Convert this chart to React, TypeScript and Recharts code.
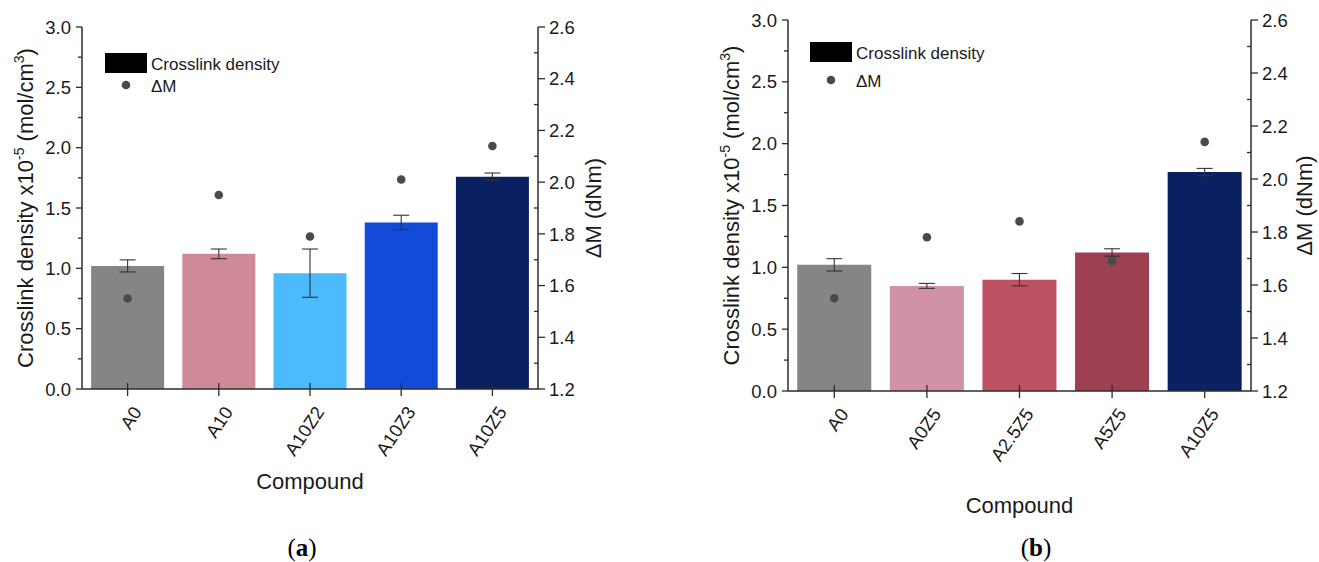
import React from 'react';
import { ComposedChart, Bar, Cell, ErrorBar, Line, XAxis, YAxis } from 'recharts';

// panel (a)
const categoriesA = ['A0', 'A10', 'A10Z2', 'A10Z3', 'A10Z5'];
const densityA = [1.02, 1.12, 0.96, 1.38, 1.76];
const densityErrA = [0.05, 0.04, 0.2, 0.06, 0.03];
const deltaMA = [1.55, 1.95, 1.79, 2.01, 2.14];
const colorsA = ['#858585', '#CF8A9A', '#4BBBFC', '#124BD8', '#0A2060'];

// panel (b)
const categoriesB = ['A0', 'A0Z5', 'A2.5Z5', 'A5Z5', 'A10Z5'];
const densityB = [1.02, 0.85, 0.9, 1.12, 1.77];
const densityErrB = [0.05, 0.02, 0.05, 0.03, 0.03];
const deltaMB = [1.55, 1.78, 1.84, 1.69, 2.14];
const colorsB = ['#858585', '#D092A4', '#BD5262', '#9C4052', '#0A2060'];

// axis ticks (majors labelled, minors drawn as short lines)
const densityTicks = [0, 0.25, 0.5, 0.75, 1, 1.25, 1.5, 1.75, 2, 2.25, 2.5, 2.75, 3];
const deltaMTicks = [1.2, 1.3, 1.4, 1.5, 1.6, 1.7, 1.8, 1.9, 2.0, 2.1, 2.2, 2.3, 2.4, 2.5, 2.6];

const FONT = '"Liberation Sans", Arial, sans-serif';
const INK = '#1a1a1a';
const AXIS = '#2b2b2b';
const TICK_FS = 18.5;

const makeRows = (cats: string[], dens: number[], err: number[], dm: number[]) =>
  cats.map((name, i) => ({ name, density: dens[i], err: err[i], dm: dm[i] }));

const LeftTick = (props: any) => {
  const { x, y, payload } = props;
  const v = payload.value as number;
  const major = Math.abs(v * 2 - Math.round(v * 2)) < 1e-6;
  return (
    <g>
      <line x1={x - (major ? 6 : 4)} x2={x} y1={y} y2={y} stroke={AXIS} strokeWidth={1.3} />
      {major && (
        <text x={x - 11} y={y} dy="0.36em" textAnchor="end" fontSize={TICK_FS} fill={INK} fontFamily={FONT}>
          {v.toFixed(1)}
        </text>
      )}
    </g>
  );
};

const RightTick = (props: any) => {
  const { x, y, payload } = props;
  const v = payload.value as number;
  const major = Math.round(v * 10) % 2 === 0;
  return (
    <g>
      {major ? (
        <line x1={x} x2={x + 7} y1={y} y2={y} stroke={AXIS} strokeWidth={1.3} />
      ) : (
        <line x1={x - 4} x2={x} y1={y} y2={y} stroke={AXIS} strokeWidth={1.3} />
      )}
      {major && (
        <text x={x + 11} y={y} dy="0.36em" textAnchor="start" fontSize={TICK_FS} fill={INK} fontFamily={FONT}>
          {v.toFixed(1)}
        </text>
      )}
    </g>
  );
};

const makeCategoryTick = (angle: number) => (props: any) => {
  const { x, y, payload } = props;
  const tx = x + 15;
  const ty = y + 23;
  return (
    <g>
      <line x1={x} x2={x} y1={y - 6} y2={y + 7} stroke={AXIS} strokeWidth={1.3} />
      <text
        x={tx}
        y={ty}
        textAnchor="end"
        transform={`rotate(${angle}, ${tx}, ${ty})`}
        fontSize={TICK_FS}
        fill={INK}
        fontFamily={FONT}
      >
        {payload.value}
      </text>
    </g>
  );
};

const TopTick = (props: any) => {
  const { x, y } = props;
  return <line x1={x} x2={x} y1={y} y2={y + 6} stroke={AXIS} strokeWidth={1.3} />;
};

type PanelProps = {
  rows: ReturnType<typeof makeRows>;
  colors: string[];
  left: number;
  width: number;
  margin: { top: number; right: number; bottom: number; left: number };
  leftAxisWidth: number;
  rightAxisWidth: number;
  xAxisHeight: number;
  tickAngle: number;
  densityLabelX: number;
  deltaLabelX: number;
  compoundY: number;
};

const Panel = ({
  rows,
  colors,
  left,
  width,
  margin,
  leftAxisWidth,
  rightAxisWidth,
  xAxisHeight,
  tickAngle,
  densityLabelX,
  deltaLabelX,
  compoundY,
}: PanelProps) => {
  const height = 562;
  const plotTop = margin.top;
  const plotBottom = height - margin.bottom - xAxisHeight;
  const plotLeft = margin.left + leftAxisWidth;
  const plotRight = width - margin.right - rightAxisWidth;
  const midY = (plotTop + plotBottom) / 2;
  const midX = (plotLeft + plotRight) / 2;

  const densityLabel = () => (
    <text
      transform={`translate(${densityLabelX},${midY}) rotate(-90)`}
      textAnchor="middle"
      fontSize={22}
      fill={INK}
      fontFamily={FONT}
    >
      Crosslink density x10
      <tspan dy={-9} fontSize={14}>-5</tspan>
      <tspan dy={9}> (mol/cm</tspan>
      <tspan dy={-9} fontSize={14}>3</tspan>
      <tspan dy={9}>)</tspan>
    </text>
  );

  const deltaLabel = () => (
    <text
      transform={`translate(${deltaLabelX},${midY}) rotate(-90)`}
      textAnchor="middle"
      fontSize={22}
      fill={INK}
      fontFamily={FONT}
    >
      ΔM (dNm)
    </text>
  );

  const compoundLabel = () => (
    <text x={midX} y={compoundY} textAnchor="middle" fontSize={22} fill={INK} fontFamily={FONT}>
      Compound
    </text>
  );

  return (
    <div style={{ position: 'absolute', left, top: 0, width, height }}>
      <ComposedChart width={width} height={height} data={rows} margin={margin} barCategoryGap="10%">
        <XAxis
          dataKey="name"
          xAxisId="bottom"
          height={xAxisHeight}
          tickSize={0}
          tickMargin={0}
          tickLine={false}
          interval={0}
          axisLine={{ stroke: AXIS, strokeWidth: 1.5 }}
          tick={makeCategoryTick(tickAngle)}
          label={compoundLabel}
        />
        <XAxis
          dataKey="name"
          xAxisId="top"
          orientation="top"
          height={0}
          tickSize={0}
          tickMargin={0}
          tickLine={false}
          interval={0}
          axisLine={{ stroke: AXIS, strokeWidth: 1.5 }}
          tick={TopTick}
        />
        <YAxis
          yAxisId="left"
          width={leftAxisWidth}
          domain={[0, 3]}
          ticks={densityTicks}
          interval={0}
          tickSize={0}
          tickMargin={0}
          tickLine={false}
          axisLine={{ stroke: AXIS, strokeWidth: 1.5 }}
          tick={LeftTick}
          label={densityLabel}
        />
        <YAxis
          yAxisId="right"
          orientation="right"
          width={rightAxisWidth}
          domain={[1.2, 2.6]}
          ticks={deltaMTicks}
          interval={0}
          tickSize={0}
          tickMargin={0}
          tickLine={false}
          axisLine={{ stroke: AXIS, strokeWidth: 1.5 }}
          tick={RightTick}
          label={deltaLabel}
        />
        <Bar dataKey="density" xAxisId="bottom" yAxisId="left" isAnimationActive={false}>
          {rows.map((r, i) => (
            <Cell key={r.name} fill={colors[i]} />
          ))}
          <ErrorBar dataKey="err" width={8} strokeWidth={1.1} stroke="#333" direction="y" />
        </Bar>
        <Line
          dataKey="dm"
          xAxisId="bottom"
          yAxisId="right"
          stroke="none"
          isAnimationActive={false}
          activeDot={false}
          dot={(p: any) => <circle key={p.index} cx={p.cx} cy={p.cy} r={4.3} fill="#4a4a4a" />}
        />
      </ComposedChart>
    </div>
  );
};

const Legend = ({ x, y, dotY }: { x: number; y: number; dotY: number }) => (
  <g>
    <rect x={x} y={y} width={42} height={20} fill="#000" />
    <text x={x + 46} y={y + 17} fontSize={17} fill={INK} fontFamily={FONT}>
      Crosslink density
    </text>
    <circle cx={x + 21} cy={dotY} r={4.3} fill="#4a4a4a" />
    <text x={x + 46} y={dotY + 7} fontSize={17} fill={INK} fontFamily={FONT}>
      ΔM
    </text>
  </g>
);

export default function App() {
  const rowsA = makeRows(categoriesA, densityA, densityErrA, deltaMA);
  const rowsB = makeRows(categoriesB, densityB, densityErrB, deltaMB);
  return (
    <div style={{ position: 'absolute', left: 0, top: 0, width: 1319, height: 562, background: '#fff', fontFamily: FONT }}>
      <Panel
        rows={rowsA}
        colors={colorsA}
        left={0}
        width={640}
        margin={{ top: 27, right: 0, bottom: 92, left: 0 }}
        leftAxisWidth={82}
        rightAxisWidth={102}
        xAxisHeight={81}
        tickAngle={-56}
        densityLabelX={33}
        deltaLabelX={601}
        compoundY={489}
      />
      <Panel
        rows={rowsB}
        colors={colorsB}
        left={700}
        width={619}
        margin={{ top: 20, right: 0, bottom: 71, left: 0 }}
        leftAxisWidth={88}
        rightAxisWidth={68}
        xAxisHeight={100}
        tickAngle={-55}
        densityLabelX={39}
        deltaLabelX={612}
        compoundY={513}
      />
      <svg width={1319} height={562} style={{ position: 'absolute', left: 0, top: 0, pointerEvents: 'none' }}>
        <Legend x={105} y={53} dotY={85} />
        <Legend x={810} y={42} dotY={80} />
        <text x={302} y={556} textAnchor="middle" fontSize={25} fill="#000" fontFamily='"Liberation Serif", serif'>
          (<tspan fontWeight="bold">a</tspan>)
        </text>
        <text x={1036} y={556} textAnchor="middle" fontSize={25} fill="#000" fontFamily='"Liberation Serif", serif'>
          (<tspan fontWeight="bold">b</tspan>)
        </text>
      </svg>
    </div>
  );
}
